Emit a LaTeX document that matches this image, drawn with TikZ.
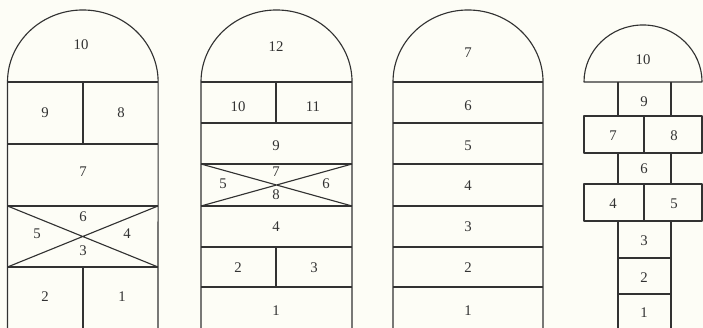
\documentclass[tikz,border=0pt]{standalone}
\usepackage{fontspec}
\setmainfont{Liberation Serif}
\usetikzlibrary{positioning}
\definecolor{Tinta}{RGB}{50,50,50}
\definecolor{Papel}{RGB}{253,253,246}
\tikzset{
  linea/.style={draw=Tinta, line width=0.8pt, line join=round},
  num/.style={text=Tinta, font=\fontsize{10.5pt}{12pt}\selectfont, inner sep=1pt},
}
\begin{document}
\begin{tikzpicture}[x=0.025cm, y=0.025cm]
  \fill[Papel] (0,0) rectangle (703,-328);
  \useasboundingbox (0,0) rectangle (703,-328);
  % ---- rayuela 1 ----
  \draw[linea] (7.5,-328) -- (7.5,-82) arc[start angle=180, end angle=0, x radius=1.8825cm, y radius=1.8cm] -- (158,-328);
  \foreach \y in {82,144,206,267} \draw[linea] (7.5,-\y) -- (158,-\y);
  \draw[linea] (83,-82) -- (83,-144) (83,-267) -- (83,-328);
  \draw[linea] (7.5,-206) -- (158,-267) (7.5,-267) -- (158,-206);
  \node[num] (a10) at (81,-45) {10};
  \node[num] (a9) at (45,-113) {9};
  \node[num] (a8) at (121,-113) {8};
  \node[num] (a7) at (83,-172) {7};
  \node[num] (a6) at (83,-217) {6};
  \node[num] (a5) at (37,-234) {5};
  \node[num] (a4) at (127,-234) {4};
  \node[num] (a3) at (83,-251) {3};
  \node[num] (a2) at (45,-297) {2};
  \node[num] (a1) at (122,-297) {1};
  % ---- rayuela 2 ----
  \draw[linea] (201,-328) -- (201,-82) arc[start angle=180, end angle=0, x radius=1.8875cm, y radius=1.8cm] -- (352,-328);
  \foreach \y in {82,123,164,206,247,287} \draw[linea] (201,-\y) -- (352,-\y);
  \draw[linea] (276,-82) -- (276,-123) (276,-247) -- (276,-287);
  \draw[linea] (201,-164) -- (352,-206) (201,-206) -- (352,-164);
  \node[num] (b12) at (276,-47) {12};
  \node[num] (b10) at (238,-107) {10};
  \node[num] (b11) at (313,-107) {11};
  \node[num] (b9) at (276,-146) {9};
  \node[num] (b7) at (276,-172) {7};
  \node[num] (b5) at (223,-184) {5};
  \node[num] (b6) at (326,-184) {6};
  \node[num] (b8) at (276,-195) {8};
  \node[num] (b4) at (276,-227) {4};
  \node[num] (b2) at (238,-268) {2};
  \node[num] (b3) at (314,-268) {3};
  \node[num] (b1) at (276,-311) {1};
  % ---- rayuela 3 ----
  \draw[linea] (393,-328) -- (393,-82) arc[start angle=180, end angle=0, x radius=1.875cm, y radius=1.8cm] -- (543,-328);
  \foreach \y in {82,123,164,206,247,287} \draw[linea] (393,-\y) -- (543,-\y);
  \node[num] (c7) at (468,-53) {7};
  \foreach \n/\y in {6/106,5/146,4/186,3/227,2/268,1/311}
    \node[num] (c\n) at (468,-\y) {\n};
  % ---- rayuela 4 ----
  \draw[linea] (584,-82) arc[start angle=180, end angle=0, x radius=1.475cm, y radius=1.425cm] -- cycle;
  \draw[linea] (618,-82) -- (618,-116) (671,-82) -- (671,-116);
  \draw[linea] (584,-116) rectangle (702,-153) (644,-116) -- (644,-153);
  \draw[linea] (618,-153) -- (618,-184) (671,-153) -- (671,-184);
  \draw[linea] (584,-184) rectangle (702,-221) (644,-184) -- (644,-221);
  \draw[linea] (618,-221) -- (618,-328) (671,-221) -- (671,-328);
  \draw[linea] (618,-258) -- (671,-258) (618,-294) -- (671,-294);
  \node[num] (d10) at (643,-60) {10};
  \node[num] (d9) at (644,-102) {9};
  \node[num] (d7) at (613,-136) {7};
  \node[num] (d8) at (674,-136) {8};
  \node[num] (d6) at (644,-169) {6};
  \node[num] (d4) at (613,-204) {4};
  \node[num] (d5) at (674,-204) {5};
  \node[num] (d3) at (644,-241) {3};
  \node[num] (d2) at (644,-278) {2};
  \node[num] (d1) at (644,-313) {1};
\end{tikzpicture}
\end{document}
